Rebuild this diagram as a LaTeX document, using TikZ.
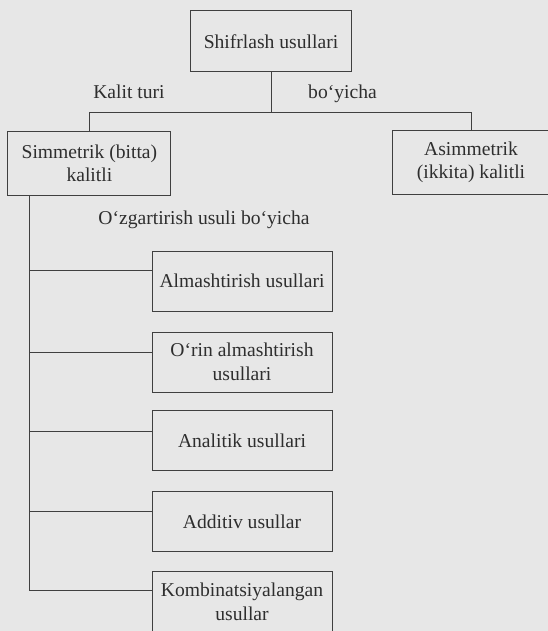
\documentclass[tikz,border=0pt]{standalone}
\usepackage{fontspec}
\setmainfont{Liberation Serif}
\usetikzlibrary{calc}
\definecolor{bg}{HTML}{E7E7E7}
\definecolor{ink}{HTML}{2E2E2E}
\definecolor{edge}{HTML}{404040}
\tikzset{
  box/.style={draw=edge, line width=1pt, fill=bg, text=ink, align=center,
    inner sep=0pt, font=\fontsize{19.6}{23.5}\selectfont},
  lbl/.style={text=ink, inner sep=0pt, anchor=base, font=\fontsize{19.6}{23.5}\selectfont},
  conn/.style={draw=edge, line width=1pt}
}
\begin{document}
\begin{tikzpicture}[x=1pt,y=-1pt]
\fill[bg] (0,0) rectangle (548,631);
\useasboundingbox (0,0) rectangle (548,631);
\begin{scope}
\clip (0,0) rectangle (548,631);
\node[box, minimum width=161pt, minimum height=60.7pt] (top) at (271,41.3) {Shifrlash usullari};
\node[box, minimum width=163pt, minimum height=63pt] (sim) at (89.4,163.5) {Simmetrik (bitta)\\kalitli};
\node[box, minimum width=158pt, minimum height=63pt] (asim) at (471,162.5) {Asimmetrik\\(ikkita) kalitli};
\node[box, minimum width=180pt, minimum height=60pt] (alm) at (242,281) {Almashtirish usullari};
\node[box, minimum width=180pt, minimum height=60pt] (orin) at (242,362) {O‘rin almashtirish\\usullari};
\node[box, minimum width=180pt, minimum height=60pt] (anal) at (242,440.5) {Analitik usullari};
\node[box, minimum width=180pt, minimum height=60pt] (add) at (242,521.3) {Additiv usullar};
\node[box, minimum width=180pt, minimum height=60pt] (komb) at (242,601.7) {Kombinatsiyalangan\\usullar};

\node[lbl] (l1) at (129,99) {Kalit turi};
\node[lbl] (l2) at (342.5,99) {bo‘yicha};
\node[lbl] (l3) at (204,224) {O‘zgartirish usuli bo‘yicha};

\coordinate (split) at ($(top.south)+(0,40.3)$);
\coordinate (t0) at ($(sim.south west)+(22,0)$);

\draw[conn] (top.south) -- (split);
\draw[conn] (split) -| (sim.north);
\draw[conn] (split) -| (asim.north);
\draw[conn] (t0) |- ($(komb.north west)+(0,19)$);
\draw[conn] (t0 |- alm.north west) ++(0,20) coordinate (c1) -- ($(alm.north west)+(0,20)$);
\draw[conn] ($(t0 |- orin.north west)+(0,21)$) coordinate (c2) -- ($(orin.north west)+(0,21)$);
\draw[conn] ($(t0 |- anal.north west)+(0,21)$) coordinate (c3) -- ($(anal.north west)+(0,21)$);
\draw[conn] ($(t0 |- add.north west)+(0,21)$) coordinate (c4) -- ($(add.north west)+(0,21)$);
\end{scope}
\end{tikzpicture}
\end{document}
